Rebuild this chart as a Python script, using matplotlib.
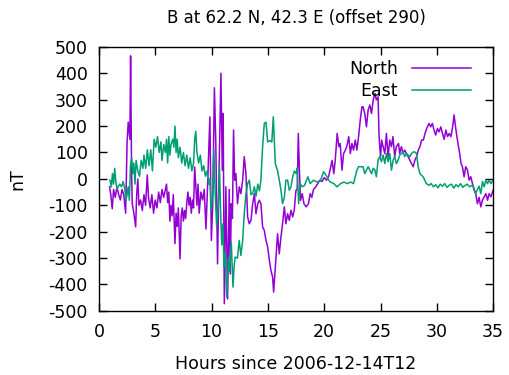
import matplotlib
matplotlib.use("Agg")
import matplotlib.pyplot as plt

plt.rcParams["axes.unicode_minus"] = False

# North component (nT) vs hours since 2006-12-14T12
north_hours = [
    0.95, 1.05, 1.18, 1.3, 1.45, 1.6, 1.75, 1.9, 2.05, 2.2, 2.37, 2.5, 2.6, 2.75, 2.81, 2.9,
    2.96, 3.1, 3.26, 3.35, 3.45, 3.55, 3.7, 3.85, 4.0, 4.14, 4.29, 4.4, 4.55, 4.7, 4.85,
    5.0, 5.15, 5.3, 5.45, 5.6, 5.75, 5.9, 6.0, 6.1, 6.2, 6.3, 6.4, 6.5, 6.6, 6.75, 6.85,
    6.95, 7.05, 7.2, 7.3, 7.4, 7.5, 7.6, 7.7, 7.8, 7.9, 8.0, 8.1, 8.2, 8.3, 8.4, 8.5, 8.6,
    8.7, 8.8, 8.9, 9.05, 9.2, 9.35, 9.5, 9.6, 9.85, 9.98, 10.1, 10.25, 10.37, 10.53, 10.68,
    10.83, 10.95, 11.03, 11.13, 11.27, 11.42, 11.57, 11.66, 11.75, 11.85, 11.95, 12.05,
    12.16, 12.3, 12.46, 12.6, 12.76, 12.9, 13.05, 13.2, 13.35, 13.5, 13.65, 13.8, 13.94,
    14.1, 14.24, 14.38, 14.53, 14.68, 14.83, 14.98, 15.13, 15.27, 15.42, 15.51, 15.66,
    15.86, 16.01, 16.16, 16.3, 16.46, 16.6, 16.75, 16.9, 17.05, 17.2, 17.34, 17.49, 17.6,
    17.7, 17.8, 17.9, 18.05, 18.2, 18.4, 18.6, 18.75, 18.9, 19.05, 19.25, 19.4, 19.6, 19.8,
    20.0, 20.2, 20.4, 20.7, 20.85, 20.98, 21.15, 21.3, 21.42, 21.58, 21.72, 21.88, 22.0,
    22.18, 22.32, 22.46, 22.6, 22.76, 22.9, 23.05, 23.2, 23.35, 23.45, 23.6, 23.75, 23.9,
    24.05, 24.2, 24.35, 24.5, 24.63, 24.78, 24.87, 25.0, 25.1, 25.23, 25.38, 25.52, 25.67,
    25.82, 25.97, 26.1, 26.26, 26.4, 26.6, 26.7, 26.85, 27.0, 27.15, 27.3, 27.45, 27.6,
    27.75, 27.9, 28.05, 28.2, 28.35, 28.5, 28.65, 28.8, 28.95, 29.1, 29.3, 29.45, 29.6,
    29.75, 29.9, 30.05, 30.2, 30.35, 30.5, 30.65, 30.8, 30.95, 31.1, 31.25, 31.4, 31.53,
    31.62, 31.74, 31.92, 32.03, 32.15, 32.27, 32.42, 32.56, 32.72, 32.87, 33.01, 33.16,
    33.31, 33.45, 33.6, 33.75, 33.9, 34.05, 34.2, 34.35, 34.5, 34.64, 34.8, 35.0,
]
north = [
    -30, -60, -113, -40, -70, -30, -60, -80, -40, -60, -130, 140, 215, 150, 466, 20,
    -95, -130, -182, -60, 0, -100, -80, -120, -60, -100, 15, -70, -110, -60, -130,
    -80, -110, -50, -90, -40, -70, -40, -20, -90, -50, -160, -100, -140, -60, -245, -130,
    -180, -110, -303, -140, -110, -160, -120, -150, -90, -50, -100, -70, -130, -80, -110, 45, -30,
    -100, -20, -130, -50, -80, -40, -190, -80, 235, -233, -100, 345, 147, -322, 60,
    400, 33, 248, -473, -30, -455, -40, -360, -94, -150, 185, -5,
    20, -94, -30, -56, -5, 84, 20, -144, -170, -157, -94, -56, -132,
    -94, -81, -94, -182, -195, -233, -258, -309, -347, -372, -429, -334,
    -208, -284, -220, -170, -106, -170, -132, -157, -119, -144, -119, -43, -40,
    172, 30, -81, -56, -94, -106, -94, -56, -70, -40, -30, -20, -5, -10,
    5, -5, 10, 70, 20, 71, 172, 122, 134, 33, 96, 109, 122,
    160, 96, 134, 109, 147, 109, 160, 223, 273, 273, 248, 197, 261,
    280, 248, 299, 324, 299, 311, 160, 84, 147, 122, 96, 172, 84,
    147, 122, 160, 84, 122, 134, 96, 122, 96, 109, 96, 84, 71,
    58, 46, 71, 84, 109, 122, 147, 147, 172, 191, 210, 197, 210,
    185, 166, 191, 178, 197, 172, 150, 185, 160, 172, 160, 197, 242,
    210, 172, 122, 96, 58, 46, 8, 46, 33, -5, 8, -18,
    -43, -56, -94, -70, -106, -81, -68, -56, -81, -56, -68, -43,
]

# East component (nT)
east_hours = [
    0.98, 1.1, 1.2, 1.3, 1.4, 1.5, 1.6, 1.7, 1.85, 2.0, 2.15, 2.3, 2.4, 2.5, 2.6, 2.7,
    2.8, 2.9, 3.0, 3.1, 3.2, 3.3, 3.45, 3.6, 3.75, 3.9, 4.0, 4.15, 4.3, 4.45, 4.6, 4.75,
    4.9, 5.05, 5.2, 5.35, 5.5, 5.6, 5.75, 5.9, 6.0, 6.1, 6.2, 6.3, 6.4, 6.55, 6.65, 6.75,
    6.85, 6.95, 7.05, 7.2, 7.35, 7.5, 7.65, 7.8, 7.95, 8.1, 8.25, 8.4, 8.5, 8.6, 8.7, 8.85,
    9.0, 9.15, 9.3, 9.45, 9.6, 9.75, 9.85, 9.95, 10.1, 10.2, 10.3, 10.45, 10.6, 10.7, 10.8,
    10.9, 11.0, 11.1, 11.2, 11.35, 11.5, 11.6, 11.75, 11.9, 12.0, 12.1, 12.3, 12.45, 12.6,
    12.76, 12.9, 13.05, 13.2, 13.35, 13.5, 13.65, 13.8, 13.95, 14.1, 14.25, 14.38, 14.53,
    14.68, 14.83, 14.98, 15.2, 15.35, 15.48, 15.66, 15.86, 16.01, 16.16, 16.3, 16.46, 16.6,
    16.75, 16.9, 17.05, 17.2, 17.35, 17.5, 17.6, 17.73, 17.88, 18.05, 18.25, 18.55, 18.75,
    19.05, 19.35, 19.65, 19.95, 20.25, 20.4, 20.55, 20.85, 21.13, 21.45, 21.75, 22.05, 22.35,
    22.6, 22.9, 23.05, 23.35, 23.45, 23.6, 23.75, 23.9, 24.05, 24.2, 24.35, 24.5, 24.63,
    24.78, 24.93, 25.08, 25.23, 25.38, 25.52, 25.67, 25.82, 25.97, 26.12, 26.26, 26.41,
    26.56, 26.7, 26.85, 27.0, 27.15, 27.3, 27.45, 27.6, 27.75, 27.9, 28.04, 28.19, 28.34,
    28.5, 28.63, 28.78, 28.93, 29.07, 29.3, 29.5, 29.7, 29.9, 30.1, 30.3, 30.5, 30.7, 30.9,
    31.1, 31.3, 31.5, 31.7, 31.9, 32.1, 32.3, 32.5, 32.7, 32.9, 33.16, 33.31, 33.45, 33.6,
    33.75, 33.9, 34.05, 34.2, 34.35, 34.5, 34.64, 34.8, 35.0,
]
east = [
    -5, -30, 20, -20, 40, -10, -40, -30, -20, -30, -10, -40, -81, -60, -30, -81,
    50, 80, 20, 60, -20, 70, 30, 10, 70, 40, 90, 40, 110, 50, 110, 30,
    150, 120, 160, 100, 140, 70, 130, 100, 150, 60, 160, 90, 130, 150, 120, 200,
    100, 150, 80, 120, 60, 100, 50, 90, 40, 80, 30, 60, 150, 180, 100, 60,
    90, 30, 50, 10, 30, -20, 0, -120, -60, 110, -30, -180, -100, 50, -120,
    -250, -170, -333, -280, -447, -300, -350, -240, -410, -330, -296, -300, -233, -290,
    -233, -132, -56, -18, -5, -60, -55, -30, -65, -20, -45, -5, 122,
    210, 215, 140, 145, 140, 235, 58, 30, -5, -43, -94, -70, -5,
    -5, -43, -30, 8, 30, 20, 40, -94, -20, -30, -25, 8, -18,
    -5, -12, -8, 27, 8, -5, -12, -18, -30, -18, -12, -18, -12,
    -18, 33, 46, 46, 46, 20, 33, 46, 33, 20, 40, 33, 8,
    71, 84, 65, 90, 58, 96, 65, 96, 33, 71, 84, 58,
    71, 90, 96, 102, 84, 96, 90, 84, 96, 102, 102, 96, 46,
    20, 14, 8, -5, -18, -24, -18, -30, -22, -34, -20, -28, -18, -32,
    -24, -20, -35, -22, -30, -18, -32, -25, -20, -30, -24, -37, -56, -40,
    -28, -56, -10, -30, -5, -18, -5, -18, -5,
]

fig = plt.figure(figsize=(5.1, 3.75), dpi=100)
ax = fig.add_axes([0.194, 0.171, 0.773, 0.704])

ax.plot(north_hours, north, color="#9400d3", lw=1.1, label="North")
ax.plot(east_hours, east, color="#009e73", lw=1.1, label="East")

ax.set_xlim(0, 35)
ax.set_ylim(-500, 500)
ax.set_xticks(range(0, 36, 5))
ax.set_yticks(range(-500, 501, 100))
ax.tick_params(direction="in", length=6, width=1, top=True, right=True, labelsize=12.5)
ax.tick_params(axis="x", pad=9)
ax.tick_params(axis="y", pad=8)
for sp in ax.spines.values():
    sp.set_linewidth(1.0)

ax.set_title("B at 62.2 N, 42.3 E (offset 290)", fontsize=12, pad=17)
ax.set_xlabel("Hours since 2006-12-14T12", fontsize=12.5, labelpad=10)
ax.set_ylabel("nT", fontsize=12.5)
ax.yaxis.set_label_coords(-0.185, 0.5)

ax.legend(loc="upper right", bbox_to_anchor=(0.97, 0.99), frameon=False, markerfirst=False,
          handlelength=3.4, fontsize=12.5, labelspacing=0.25, borderaxespad=0.2)

fig.savefig("out.png", dpi=100)
